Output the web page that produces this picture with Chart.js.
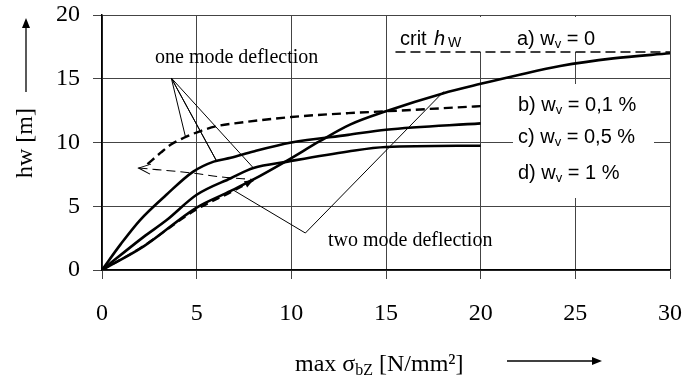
<!DOCTYPE html>
<html>
<head>
<meta charset="utf-8">
<script src="https://cdn.jsdelivr.net/npm/chart.js@4"></script>
<style>
  body { margin: 0; background: #fff; }
  #wrap { width: 698px; height: 376px; }
</style>
</head>
<body>
<div id="wrap"><canvas id="hwChart" width="698" height="376"></canvas></div>
<script>
// values (x = max sigma_bZ [N/mm²], y = hw [m])
var xA = [0, 2.2, 5, 6.8, 8, 9.8, 11.5, 13.1, 15, 18, 20, 22, 24.2, 27, 30];
var yA = [0, 1.85, 4.9, 6.2, 7.1, 8.6, 10.1, 11.4, 12.45, 13.85, 14.6, 15.3, 16.0, 16.6, 17.0];

var xC = [0, 1, 2, 3.4, 4.8, 5.9, 6.8, 8, 10, 13, 15, 20];
var yC = [0, 2.05, 3.9, 5.9, 7.7, 8.5, 8.8, 9.3, 10.0, 10.6, 11.0, 11.5];

var xD = [0, 2.2, 3.4, 5, 6.8, 8, 9.8, 13, 15, 20];
var yD = [0, 2.6, 3.9, 5.9, 7.2, 8.0, 8.5, 9.3, 9.65, 9.75];

// b) w_v = 0,1 % : loading branch, jump back, upper branch
var xB1 = [0, 2, 5, 6.8, 8];
var yB1 = [0, 1.7, 4.75, 6.1, 7.05];
var xB2 = [1.93, 4.8, 6.3, 8];
var yB2 = [8.0, 7.6, 7.3, 7.1];
var xB3 = [2.4, 3.1, 3.6, 4.3, 5.2, 6.1, 7, 10, 13, 15, 20];
var yB3 = [8.3, 9.2, 9.8, 10.35, 10.9, 11.3, 11.5, 12.0, 12.3, 12.45, 12.85];

var xCrit = [15.5, 30];
var yCrit = [17.1, 17.1];

// leader lines of the two notes
var xOne = [4.4, 3.66, 6.07, 3.66, 8.0];
var yOne = [10.5, 15.06, 8.5, 15.06, 8.0];
var xTwo = [6.9, 10.74, 18.05];
var yTwo = [6.3, 2.9, 14.0];

var xTicks = [0, 5, 10, 15, 20, 25, 30];
var yTicks = [0, 5, 10, 15, 20];

function pts(xs, ys) {
    return xs.map(function(x, i) { return { x: x, y: ys[i] }; });
}

function line(xs, ys, width, dash, smooth) {
    return {
        data: pts(xs, ys),
        showLine: true,
        borderColor: '#000',
        borderWidth: width,
        borderDash: dash || [],
        pointRadius: 0,
        pointHoverRadius: 0,
        tension: smooth ? 0.4 : 0,
        cubicInterpolationMode: smooth ? 'monotone' : 'default',
        fill: false
    };
}

var serif = "'Liberation Serif', 'Times New Roman', serif";
var sans = "'Liberation Sans', Arial, sans-serif";

function arrowHead(ctx, x, y, ang, len, half, filled) {
    ctx.save();
    ctx.translate(x, y);
    ctx.rotate(ang);
    ctx.beginPath();
    ctx.moveTo(-len, -half);
    ctx.lineTo(0, 0);
    ctx.lineTo(-len, half);
    if (filled) {
        ctx.closePath();
        ctx.fill();
    } else {
        ctx.stroke();
    }
    ctx.restore();
}

var decor = {
    id: 'decor',
    beforeDatasetsDraw: function(chart) {
        // gaps in the grid behind the labels
        var ctx = chart.ctx;
        ctx.save();
        ctx.fillStyle = '#fff';
        ctx.fillRect(472, 17, 196, 35);
        ctx.fillRect(513, 84, 141, 114);
        ctx.restore();
    },
    afterDraw: function(chart) {
        var ctx = chart.ctx;
        var sx = chart.scales.x, sy = chart.scales.y;
        ctx.save();
        ctx.fillStyle = '#000';
        ctx.strokeStyle = '#000';
        ctx.textBaseline = 'alphabetic';

        // notes
        ctx.font = '20px ' + serif;
        ctx.textAlign = 'left';
        ctx.fillText('one mode deflection', 155, 63);
        ctx.fillText('two mode deflection', 328, 246);

        // crit h_W
        ctx.font = '20px ' + sans;
        ctx.fillText('crit', 400, 45);
        ctx.font = 'italic 20px ' + sans;
        ctx.fillText('h', 434, 45);
        ctx.font = '14px ' + sans;
        ctx.fillText('W', 448, 47);

        // case labels
        var cases = [['a) w', ' = 0', 517, 45], ['b) w', ' = 0,1 %', 518, 111],
                     ['c) w', ' = 0,5 %', 518, 143], ['d) w', ' = 1 %', 518, 179]];
        cases.forEach(function(c) {
            ctx.font = '20px ' + sans;
            ctx.fillText(c[0], c[2], c[3]);
            var x = c[2] + ctx.measureText(c[0]).width;
            ctx.font = '13px ' + sans;
            ctx.fillText('v', x, c[3] + 3);
            x += ctx.measureText('v').width;
            ctx.font = '20px ' + sans;
            ctx.fillText(c[1], x, c[3]);
        });

        // arrowheads on the b) path
        ctx.lineWidth = 1;
        var ax = sx.getPixelForValue(1.93), ay = sy.getPixelForValue(8.0);
        var bx = sx.getPixelForValue(4.8), by = sy.getPixelForValue(7.6);
        arrowHead(ctx, ax, ay, Math.atan2(ay - by, ax - bx), 12, 5, false);
        var cx = sx.getPixelForValue(8.0), cy = sy.getPixelForValue(7.05);
        var dx = sx.getPixelForValue(6.8), dy = sy.getPixelForValue(6.1);
        arrowHead(ctx, cx, cy, Math.atan2(cy - dy, cx - dx), 9, 3.5, true);

        // y axis title with arrow
        ctx.save();
        ctx.translate(26, 143);
        ctx.rotate(-Math.PI / 2);
        ctx.font = '24px ' + serif;
        ctx.textAlign = 'center';
        ctx.textBaseline = 'middle';
        ctx.fillText('hw [m]', 0, 0);
        ctx.restore();
        ctx.lineWidth = 1.3;
        ctx.beginPath();
        ctx.moveTo(26, 92);
        ctx.lineTo(26, 24);
        ctx.stroke();
        arrowHead(ctx, 26, 18, -Math.PI / 2, 10, 4, true);

        // x axis title with arrow
        ctx.textAlign = 'left';
        ctx.font = '24px ' + serif;
        var t = 'max \u03c3';
        ctx.fillText(t, 295, 371);
        var px = 295 + ctx.measureText(t).width;
        ctx.font = '16px ' + serif;
        ctx.fillText('bZ', px, 375);
        px += ctx.measureText('bZ').width;
        ctx.font = '24px ' + serif;
        ctx.fillText(' [N/mm\u00b2]', px, 371);
        ctx.beginPath();
        ctx.moveTo(507, 361);
        ctx.lineTo(594, 361);
        ctx.stroke();
        arrowHead(ctx, 602, 361, 0, 10, 4, true);

        ctx.restore();
    }
};

var ctx = document.getElementById('hwChart').getContext('2d');
var hwChart = new Chart(ctx, {
    type: 'scatter',
    data: {
        datasets: [
            line(xCrit, yCrit, 1.5, [10, 5], false),
            line(xA, yA, 2.6, null, true),
            line(xC, yC, 2.6, null, true),
            line(xD, yD, 2.6, null, true),
            line(xB1, yB1, 2.2, [8, 5], true),
            line(xB2, yB2, 1.1, [9, 5], true),
            line(xB3, yB3, 2.4, [9, 5], true),
            line(xOne, yOne, 1, null, false),
            line(xTwo, yTwo, 1, null, false)
        ]
    },
    options: {
        responsive: false,
        animation: false,
        layout: { padding: { left: 0, right: 28, top: 15, bottom: 0 } },
        plugins: {
            legend: { display: false },
            tooltip: { enabled: false }
        },
        scales: {
            x: {
                type: 'linear',
                min: 0,
                max: 30,
                afterBuildTicks: function(s) { s.ticks = xTicks.map(function(v) { return { value: v }; }); },
                afterFit: function(s) { s.height = 106; s.paddingLeft = 0; s.paddingRight = 0; },
                grid: { color: '#444', lineWidth: 1, tickLength: 9 },
                border: { color: '#000', width: 1.5 },
                ticks: { color: '#000', padding: 20, font: { family: serif, size: 24 } }
            },
            y: {
                type: 'linear',
                min: 0,
                max: 20,
                afterBuildTicks: function(s) { s.ticks = yTicks.map(function(v) { return { value: v }; }); },
                afterFit: function(s) { s.width = 102; s.paddingTop = 0; s.paddingBottom = 0; },
                grid: { color: '#444', lineWidth: 1, tickLength: 9 },
                border: { color: '#000', width: 1.5 },
                ticks: { color: '#000', padding: 13, font: { family: serif, size: 24 } }
            }
        }
    },
    plugins: [decor]
});
</script>
</body>
</html>
